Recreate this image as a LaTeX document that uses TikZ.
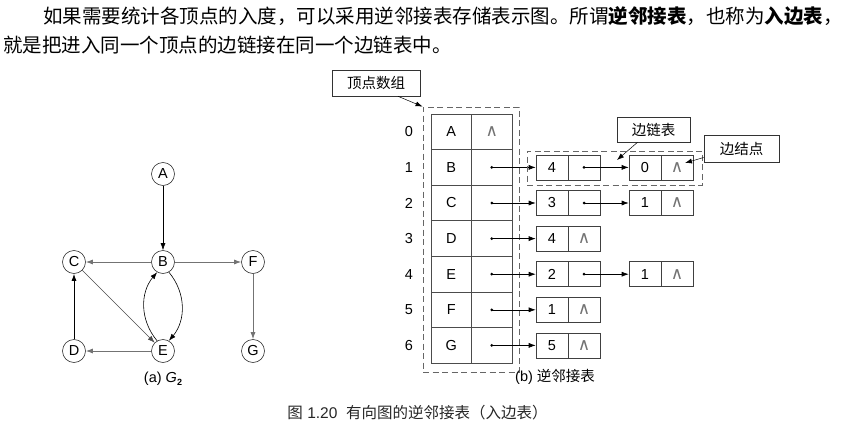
\documentclass[tikz,border=0pt]{standalone}
\usepackage{fontspec}
\setmainfont{Liberation Sans}
\newfontfamily\cjk{Noto Sans CJK SC}
\newfontfamily\symf{DejaVu Sans}
\usetikzlibrary{arrows.meta,calc}
\newcommand{\nil}{{\symf\fontsize{17}{17}\selectfont\color{black!55}∧}}
\begin{document}
\begin{tikzpicture}[x=1pt,y=-1pt,font=\fontsize{14.5}{16}\selectfont,
  vtx/.style={circle,draw=black!80,minimum size=23pt,inner sep=0pt,line width=0.6pt},
  arr/.style={-{Latex[length=7pt,width=5pt]},line width=0.6pt},
  garr/.style={arr,draw=black!55,line width=0.9pt},
  tcell/.style={draw=black!70,minimum width=40.5pt,minimum height=35.6pt,inner sep=0pt,line width=0.8pt},
  ecell/.style={draw=black!75,minimum width=32pt,minimum height=25pt,inner sep=0pt,line width=0.6pt},
  dotn/.style={circle,fill,inner sep=0pt,minimum size=3pt},
  dbox/.style={draw=black!60,dashed,dash pattern=on 6pt off 3.5pt,line width=0.8pt,inner sep=0pt},
  lab/.style={draw=black!80,inner sep=0pt,line width=0.6pt,font=\cjk\fontsize{14.5}{16}\selectfont}]
\useasboundingbox (0,0) rectangle (843,428);

% top paragraph
\node[anchor=west,inner sep=0pt,font=\cjk\fontsize{19.5}{22}\selectfont] (t1) at (43,16)
  {如果需要统计各顶点的入度，可以采用逆邻接表存储表示图。所谓{\bfseries 逆邻接表}，也称为{\bfseries 入边表}，};
\node[anchor=west,inner sep=0pt,font=\cjk\fontsize{19.5}{22}\selectfont] (t2) at (3,45)
  {就是把进入同一个顶点的边链接在同一个边链表中。};

% graph (a)
\node[vtx] (A) at (163,174) {A};
\node[vtx] (C) at (74,262) {C};
\node[vtx] (B) at (163,262) {B};
\node[vtx] (F) at (253,262) {F};
\node[vtx] (D) at (74,351) {D};
\node[vtx] (E) at (163,351) {E};
\node[vtx] (G) at (253,351) {G};
\draw[arr] (A) -- (B);
\draw[garr] (B) -- (C);
\draw[garr] (B) -- (F);
\draw[garr] (F) -- (G);
\draw[arr,line width=0.9pt] (D) -- (C);
\draw[garr] (E) -- (D);
\draw[arr,line width=0.4pt,draw=black!70] (C) -- (E);
\draw[arr] (B.-60) to[out=-50,in=50] (E.60);
\draw[arr] (E.120) to[out=130,in=-130] (B.-120);
\node (capa) at (163,379) {(a) {\itshape G}\raisebox{-2.5pt}{\fontsize{9}{9}\selectfont\bfseries 2}};

% vertex array
\node[dbox,minimum width=96pt,minimum height=265pt] (arrbox) at (471,239.5) {};
\node[lab,minimum width=88pt,minimum height=26pt] (labv) at (376,83) {顶点数组};
\draw[arr,line width=0.5pt] ($(labv.south)+(22,0)$) -- (arrbox.north west);
\foreach \l [count=\i from 0] in {A,B,C,D,E,F,G}{
  \node[tcell] (v\i) at (451.25,131.8+35.6*\i) {\l};
  \node[tcell] (p\i) at (491.75,131.8+35.6*\i) {};
  \node (idx\i) at (409,131.8+35.6*\i) {\i};
}
\node at (p0) {\nil};
\foreach \i in {1,...,6}{\node[dotn] (d\i) at (p\i) {};}

% edge nodes: first column
\foreach \i/\n in {1/4,2/3,3/4,4/2,5/1,6/5}{
  \node[ecell] (a\i) at (552,131.8+35.6*\i) {\n};
  \node[ecell] (b\i) at (584,131.8+35.6*\i) {};
  \draw[arr] (d\i.center) -- (a\i.west);
}
\foreach \i in {3,5,6}{\node at (b\i) {\nil};}
\foreach \i in {1,2,4}{\node[dotn] (q\i) at (b\i) {};}
% second column
\foreach \i/\n in {1/0,2/1,4/1}{
  \node[ecell] (c\i) at (645,131.8+35.6*\i) {\n};
  \node[ecell] (f\i) at (677,131.8+35.6*\i) {\nil};
  \draw[arr] (q\i.center) -- (c\i.west);
}

% callouts
\node[dbox,minimum width=175pt,minimum height=34pt] (lbox) at (614.5,168) {};
\node[lab,minimum width=73pt,minimum height=25pt] (labl) at (653.5,129.5) {边链表};
\coordinate (lt) at (617,160);
\draw[arr,line width=0.5pt] ($(labl.south)+(-16,0)$) -- (lt);
\node[lab,minimum width=75pt,minimum height=27pt] (labn) at (741.5,148.5) {边结点};
\coordinate (nt) at (685,163);
\draw[arr,line width=0.5pt] ($(labn.west)+(0,9)$) -- (nt);

\node[anchor=west,inner sep=0pt] (capb) at (515,377) {(b) {\cjk 逆邻接表}};

% caption
\node[inner sep=0pt,font=\fontsize{15.5}{17}\selectfont,text=black!85] (cap) at (417.5,413)
  {{\cjk 图} 1.20\ \ {\cjk 有向图的逆邻接表（入边表）}};
\end{tikzpicture}
\end{document}
